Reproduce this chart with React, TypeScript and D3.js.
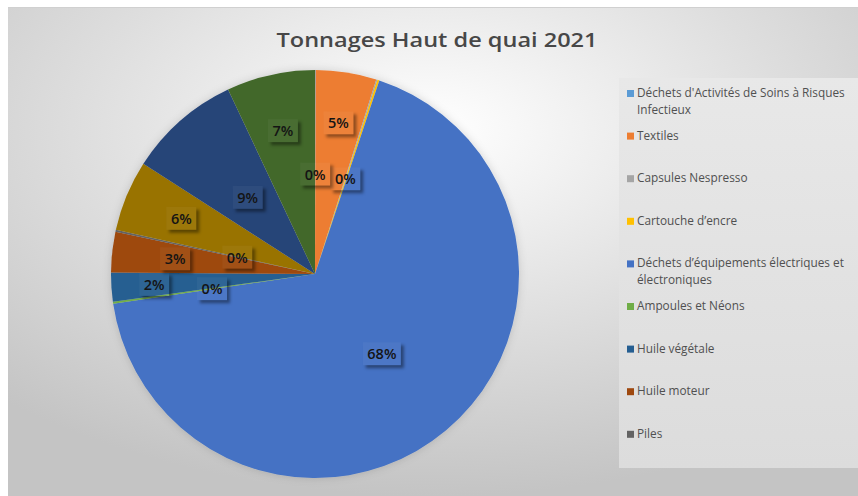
import React from "react";
import * as d3 from "d3";

const categories = [
  "Déchets d'Activités de Soins à Risques Infectieux",
  "Textiles",
  "Capsules Nespresso",
  "Cartouche d’encre",
  "Déchets d’équipements électriques et électroniques",
  "Ampoules et Néons",
  "Huile végétale",
  "Huile moteur",
  "Piles",
  "Catégorie 10",
  "Catégorie 11",
  "Catégorie 12",
];
const values = [0.05, 4.8, 0.1, 0.15, 67.5, 0.15, 2.3, 3.2, 0.15, 5.6, 8.9, 7.0];
const colors = [
  "#5B9BD5", "#ED7D31", "#A5A5A5", "#FFC000", "#4472C4", "#70AD47",
  "#255E91", "#9E480E", "#636363", "#997300", "#264478", "#43682B",
];
const labelRadius = [0.49, 0.75, 0.49, 0.49, 0.51, 0.51, 0.79, 0.69, 0.39, 0.71, 0.5, 0.72];
const legendLines = [
  ["Déchets d'Activités de Soins à Risques", "Infectieux"],
  ["Textiles"],
  ["Capsules Nespresso"],
  ["Cartouche d’encre"],
  ["Déchets d’équipements électriques et", "électroniques"],
  ["Ampoules et Néons"],
  ["Huile végétale"],
  ["Huile moteur"],
  ["Piles"],
];
const title = "Tonnages Haut de quai 2021";

const W = 858;
const H = 496;
const cx = 315;
const cy = 274;
const R = 204;

export default function App() {
  const total = d3.sum(values);
  const pie = d3.pie<number>().sort(null).value((d) => d)(values);
  const arc = d3.arc<d3.PieArcDatum<number>>().innerRadius(0).outerRadius(R);
  const font = "'Open Sans', 'Noto Sans', sans-serif";
  const bh = 23;

  const placed: { x: number; y: number }[] = [];
  const labels = pie
    .map((p, i) => {
      const a = (p.startAngle + p.endAngle) / 2;
      const r = labelRadius[i] * R;
      return { i, x: Math.sin(a) * r, y: -Math.cos(a) * r };
    })
    .filter((l) => {
      const clash = placed.some((q) => Math.hypot(q.x - l.x, q.y - l.y) < 8);
      if (!clash) placed.push(l);
      return !clash;
    });

  return (
    <svg width={W} height={H} style={{ position: "absolute", left: 0, top: 0 }}>
      <defs>
        <radialGradient id="bg" cx="0.5" cy="0.25" r="0.75">
          <stop offset="0" stopColor="#ffffff" />
          <stop offset="0.55" stopColor="#dedede" />
          <stop offset="1" stopColor="#c4c4c4" />
        </radialGradient>
        <linearGradient id="leg" x1="0" y1="0" x2="0" y2="1">
          <stop offset="0" stopColor="#e8e8e8" />
          <stop offset="1" stopColor="#dcdcdc" />
        </linearGradient>
        <filter id="blur2" x="-40%" y="-40%" width="180%" height="180%">
          <feGaussianBlur stdDeviation="1.4" />
        </filter>
        <filter id="pieShadow" x="-20%" y="-20%" width="140%" height="140%">
          <feDropShadow dx="0" dy="0" stdDeviation="4" floodColor="#000" floodOpacity="0.15" />
        </filter>
        {[30, 38].map((bw) => (
          <mask key={bw} id={`m${bw}`} maskUnits="userSpaceOnUse" x={-60} y={-40} width={120} height={80}>
            <rect x={-60} y={-40} width={120} height={80} fill="#fff" />
            <rect x={-bw / 2} y={-bh / 2} width={bw} height={bh} fill="#000" />
          </mask>
        ))}
      </defs>
      <rect x={8} y={7} width={W - 8} height={H - 7} fill="url(#bg)" />
      <line x1={8} x2={W} y1={7.5} y2={7.5} stroke="#d0d0d0" />
      <text
        x={437}
        y={47}
        textAnchor="middle"
        fontFamily={font}
        fontWeight={600}
        fontSize={20}
        fill="#474747"
        textLength={321}
        lengthAdjust="spacingAndGlyphs"
      >
        {title}
      </text>

      <g transform={`translate(${cx},${cy})`} filter="url(#pieShadow)">
        {pie.map((p, i) => (
          <path key={i} d={arc(p) || ""} fill={colors[i]} />
        ))}
      </g>

      <g transform={`translate(${cx},${cy})`}>
        {labels.map(({ i, x, y }) => {
          const txt = `${Math.round((values[i] / total) * 100)}%`;
          const bw = txt.length === 2 ? 30 : 38;
          const o = 3;
          return (
            <g key={i} transform={`translate(${x},${y})`}>
              <g mask={`url(#m${bw})`}>
                <rect
                  x={-bw / 2 + o}
                  y={-bh / 2 + o}
                  width={bw}
                  height={bh}
                  fill="#000"
                  fillOpacity={0.4}
                  filter="url(#blur2)"
                />
              </g>
              <rect x={-bw / 2} y={-bh / 2} width={bw} height={bh} fill="#fff" fillOpacity={0.04} />
              <text
                x={0}
                y={5.5}
                textAnchor="middle"
                fontFamily={font}
                fontWeight={600}
                fontSize={14.5}
                fill="#141414"
              >
                {txt}
              </text>
            </g>
          );
        })}
      </g>

      <rect x={619} y={78} width={W - 619} height={390} fill="url(#leg)" />
      {legendLines.map((lines, i) => {
        const y0 = 97 + i * 42.6;
        return (
          <g key={i}>
            <rect x={627} y={y0 - 7} width={7} height={7} fill={colors[i]} />
            {lines.map((t, j) => (
              <text
                key={j}
                x={637}
                y={y0 + j * 17}
                fontFamily={font}
                fontSize={11.8}
                fill="#505050"
              >
                {t}
              </text>
            ))}
          </g>
        );
      })}
    </svg>
  );
}
